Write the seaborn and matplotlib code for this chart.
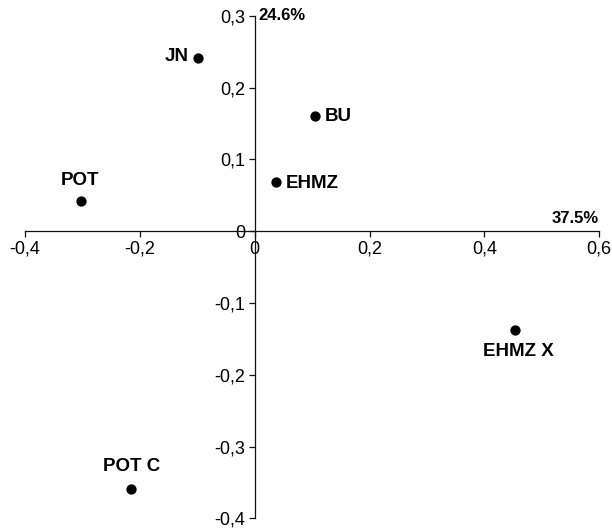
import matplotlib
matplotlib.use("Agg")
import matplotlib.pyplot as plt
import seaborn as sns
import pandas as pd

# Datos
labels = ["JN", "BU", "EHMZ", "POT", "EHMZ X", "POT C"]
dim1 = [-0.098, 0.105, 0.037, -0.302, 0.454, -0.215]
dim2 = [0.242, 0.160, 0.068, 0.042, -0.137, -0.359]

xticks = [-0.4, -0.2, 0, 0.2, 0.4, 0.6]
xtick_labels = ["-0,4", "-0,2", "0", "0,2", "0,4", "0,6"]
yticks = [-0.4, -0.3, -0.2, -0.1, 0, 0.1, 0.2, 0.3]
ytick_labels = ["-0,4", "-0,3", "-0,2", "-0,1", "0", "0,1", "0,2", "0,3"]

df = pd.DataFrame({"label": labels, "dim1": dim1, "dim2": dim2})

sns.set_style("white")
plt.rcParams["font.family"] = ["Liberation Sans", "DejaVu Sans"]
plt.rcParams["text.color"] = "black"

fig = plt.figure(figsize=(6.12, 5.29), dpi=100)
ax = fig.add_axes([0.041, 0.020, 0.938, 0.950])

sns.scatterplot(data=df, x="dim1", y="dim2", color="black", s=55,
                edgecolor="black", linewidth=0, ax=ax, zorder=3)

# Posición de cada etiqueta respecto a su punto (en puntos tipográficos)
offsets = {
    "JN": (-7, 1, "right", "center"),
    "BU": (7, 0, "left", "center"),
    "EHMZ": (7, -1, "left", "center"),
    "POT": (-1, 15, "center", "center"),
    "EHMZ X": (2, -16, "center", "center"),
    "POT C": (0, 16, "center", "center"),
}
for lab, x, y in zip(labels, dim1, dim2):
    dx, dy, ha, va = offsets[lab]
    ax.annotate(lab, (x, y), xytext=(dx, dy), textcoords="offset points",
                ha=ha, va=va, fontsize=13.5, fontweight="bold", color="black")

ax.set_xlim(-0.4, 0.6)
ax.set_ylim(-0.4, 0.3)
ax.set_xticks(xticks)
ax.set_xticklabels(xtick_labels)
ax.set_yticks(yticks)
ax.set_yticklabels(ytick_labels)
ax.set_xlabel("")
ax.set_ylabel("")

ax.spines["left"].set_position(("data", 0))
ax.spines["bottom"].set_position(("data", 0))
ax.spines["top"].set_visible(False)
ax.spines["right"].set_visible(False)
for sp in ["left", "bottom"]:
    ax.spines[sp].set_linewidth(0.9)
    ax.spines[sp].set_color("#111111")

ax.tick_params(axis="both", direction="out", length=4, width=0.9,
               color="#111111", labelcolor="black", labelsize=13, pad=3)
ax.tick_params(axis="x", bottom=True)
ax.tick_params(axis="y", left=True)

# Porcentaje de inercia de cada eje
ax.text(0.006, 0.3, "24.6%", ha="left", va="center", fontsize=12,
        fontweight="bold")
ax.text(0.6, 0.008, "37.5%", ha="right", va="bottom", fontsize=12,
        fontweight="bold")

plt.savefig("out.png", dpi=100)
